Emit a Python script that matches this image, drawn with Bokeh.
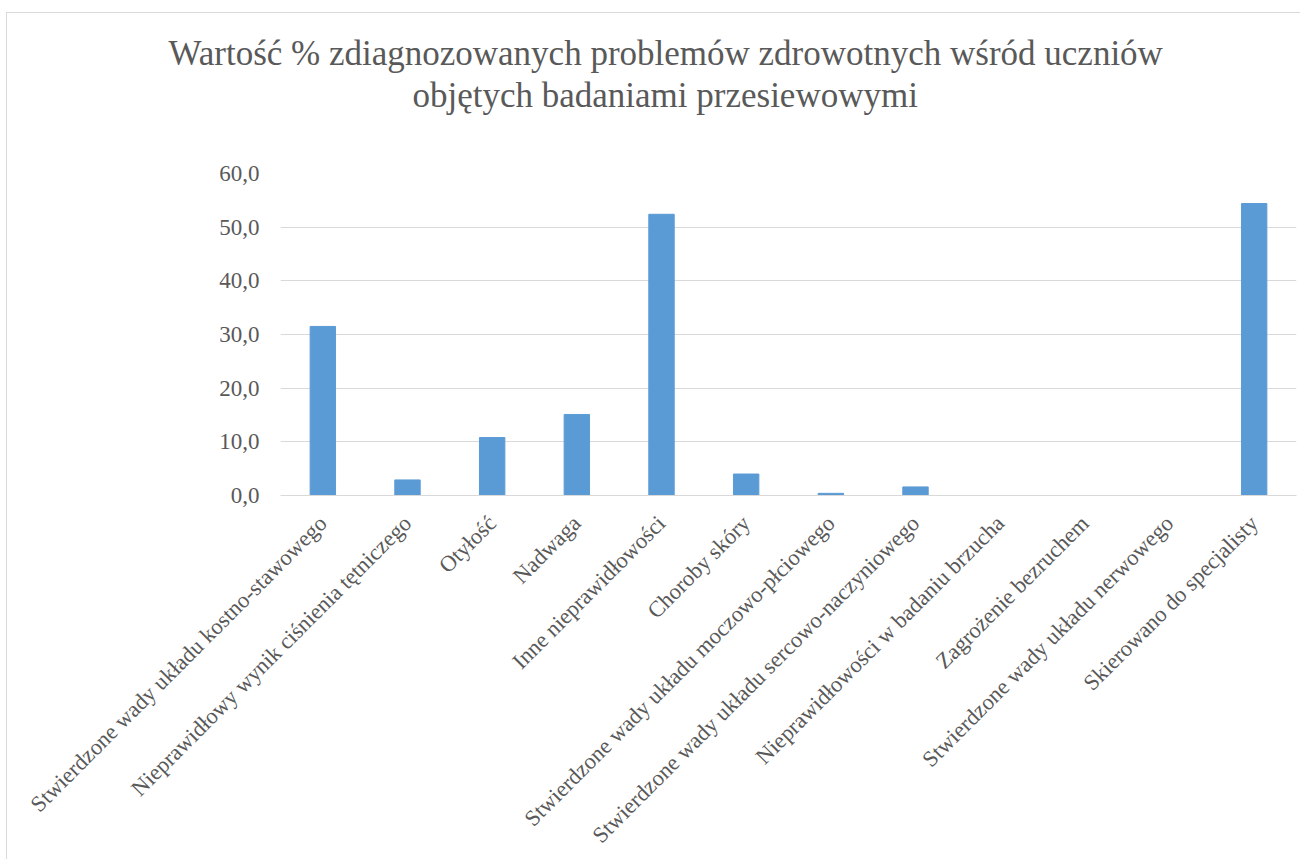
from bokeh.plotting import figure
from bokeh.models import FactorRange, Range1d, FixedTicker, Title
from bokeh.embed import file_html
from bokeh.resources import INLINE
import math

categories = [
    "Stwierdzone wady układu kostno-stawowego",
    "Nieprawidłowy wynik ciśnienia tętniczego",
    "Otyłość",
    "Nadwaga",
    "Inne nieprawidłowości",
    "Choroby skóry",
    "Stwierdzone wady układu moczowo-płciowego",
    "Stwierdzone wady układu sercowo-naczyniowego",
    "Nieprawidłowości w badaniu brzucha",
    "Zagrożenie bezruchem",
    "Stwierdzone wady układu nerwowego",
    "Skierowano do specjalisty",
]
values = [31.5, 2.9, 10.8, 15.1, 52.4, 4.0, 0.4, 1.6, 0.0, 0.0, 0.0, 54.4]
y_ticks = [0, 10, 20, 30, 40, 50, 60]
y_tick_labels = ["0,0", "10,0", "20,0", "30,0", "40,0", "50,0", "60,0"]
title_lines = [
    "Wartość % zdiagnozowanych problemów zdrowotnych wśród uczniów",
    "objętych badaniami przesiewowymi",
]

FONT = "Liberation Serif"
GRAY = "#595959"

p = figure(
    x_range=FactorRange(*categories),
    y_range=Range1d(0, 60),
    frame_width=1016, frame_height=322,
    output_backend="svg", toolbar_location=None,
    min_border_left=273, min_border_right=4,
    min_border_top=160, min_border_bottom=10,
)
p.outline_line_color = None
p.styles = {
    "margin-left": "6px", "margin-top": "12px",
    "border-top": "1px solid #d9d9d9", "border-left": "1px solid #d9d9d9",
}

p.vbar(x=categories, top=values, width=0.3, color="#5B9BD5")

p.xgrid.grid_line_color = None
p.ygrid.grid_line_color = "#d9d9d9"
p.ygrid.grid_line_width = 1.2

p.yaxis.ticker = FixedTicker(ticks=y_ticks)
p.yaxis.major_label_overrides = {t: l for t, l in zip(y_ticks, y_tick_labels)}
p.yaxis.axis_line_color = None
p.yaxis.major_tick_line_color = None
p.yaxis.minor_tick_line_color = None
p.yaxis.major_label_standoff = 15
p.yaxis.major_label_text_font = FONT
p.yaxis.major_label_text_font_size = "23px"
p.yaxis.major_label_text_color = GRAY

p.xaxis.axis_line_color = "#d9d9d9"
p.xaxis.axis_line_width = 1.2
p.xaxis.major_tick_line_color = None
p.xaxis.minor_tick_line_color = None
p.xaxis.major_label_orientation = math.pi / 4
p.xaxis.major_label_standoff = 18
p.xaxis.major_label_text_font = FONT
p.xaxis.major_label_text_font_size = "22.5px"
p.xaxis.major_label_text_color = GRAY

# spacer between the frame and the two title lines
p.add_layout(Title(text=" ", text_font=FONT, text_font_size="32px",
                   standoff=20, text_color="white"), "above")
p.add_layout(Title(
    text=title_lines[1], align="left", offset=132, standoff=2,
    text_font=FONT, text_font_size="35px", text_color=GRAY,
    text_font_style="normal",
), "above")
p.add_layout(Title(
    text=title_lines[0], align="left", offset=-112, standoff=0,
    text_font=FONT, text_font_size="35px", text_color=GRAY,
    text_font_style="normal",
), "above")

open("out.html", "w").write(file_html(p, INLINE))
